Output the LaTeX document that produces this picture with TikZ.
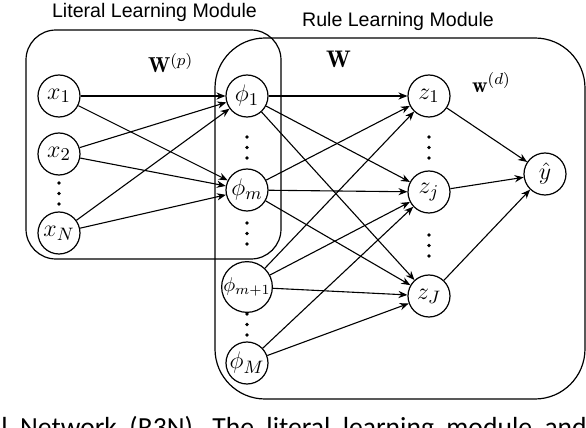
\documentclass[tikz,border=0pt]{standalone}
\usepackage{fontspec}
\usetikzlibrary{arrows.meta}
\newfontfamily\labelfont{Liberation Sans}
\newfontfamily\captionfont{Carlito}

% three dots of a column, top dot at (#1,#2)
\newcommand{\vdotsat}[2]{
  \fill (#1,#2) circle (0.9pt);
  \fill (#1,#2+10.5) circle (0.9pt);
  \fill (#1,#2+21) circle (0.9pt);
}

\begin{document}
\begin{tikzpicture}[x=0.5pt,y=-0.5pt,>={Stealth[length=4.5pt,width=3.6pt]},
  neuron/.style={draw,circle,minimum size=21pt,inner sep=0pt,line width=0.6pt,font=\fontsize{12.5}{14}\selectfont},
  module/.style={draw,line width=0.6pt},
  link/.style={->,line width=0.55pt},
  modname/.style={anchor=base,font=\labelfont\fontsize{9.8}{12}\selectfont}]
  \useasboundingbox (0,0) rectangle (586,428);
  \clip (0,0) rectangle (586,428);

  % modules
  \draw[module,rounded corners=15pt] (26,30) rectangle (281,259);
  \draw[module,rounded corners=25pt] (215,38) rectangle (585,399);
  \node[modname] (litname) at (154.5,18) {Literal Learning Module};
  \node[modname] (rulename) at (398,26) {Rule Learning Module};

  % weights
  \node[anchor=base west,font=\fontsize{10.8}{12}\selectfont] (Wp) at (141,73) {$\mathbf{W}^{(p)}$};
  \node[anchor=base west,font=\fontsize{12}{14}\selectfont] (W) at (319,68) {$\mathbf{W}$};
  \node[anchor=base west,font=\fontsize{10.8}{12}\selectfont] (wd) at (465,92) {$\mathbf{w}^{(d)}$};

  % inputs
  \node[neuron] (x1) at (59,96) {$x_1$};
  \node[neuron] (x2) at (59,154) {$x_2$};
  \node[neuron] (xN) at (59,233) {$x_N$};
  \vdotsat{59}{183}

  % literals
  \node[neuron] (phi1) at (247,96) {$\phi_1$};
  \node[neuron] (phim) at (247,190) {$\phi_m$};
  \node[neuron,font=\fontsize{10}{12}\selectfont] (phimm) at (247,287) {$\phi_{m+1}$};
  \node[neuron] (phiM) at (247,363) {$\phi_M$};
  \vdotsat{247}{137}
  \vdotsat{247}{223}
  \vdotsat{247}{314}

  % rules
  \node[neuron] (z1) at (429,96) {$z_1$};
  \node[neuron] (zj) at (429,192) {$z_j$};
  \node[neuron] (zJ) at (429,296) {$z_J$};
  \vdotsat{429}{137}
  \vdotsat{429}{235}

  % output
  \node[neuron] (yhat) at (545,174) {$\hat{y}$};

  % inputs to literals
  \draw[link] (x1) -- (phi1);
  \draw[link] (x1) -- (phim);
  \draw[link] (x2) -- (phi1);
  \draw[link] (x2) -- (phim);
  \draw[link] (xN) -- (phi1);
  \draw[link] (xN) -- (phim);

  % literals to rules
  \draw[link] (phi1) -- (z1);
  \draw[link] (phi1) -- (zj);
  \draw[link] (phi1) -- (zJ);
  \draw[link] (phim) -- (z1);
  \draw[link] (phim) -- (zj);
  \draw[link] (phim) -- (zJ);
  \draw[link] (phimm) -- (z1);
  \draw[link] (phimm) -- (zj);
  \draw[link] (phimm) -- (zJ);
  \draw[link] (phiM) -- (zj);
  \draw[link] (phiM) -- (zJ);

  % rules to output
  \draw[link] (z1) -- (yhat);
  \draw[link] (zj) -- (yhat);
  \draw[link] (zJ) -- (yhat);

  % caption line, cut by the page
  \node[anchor=base west,inner sep=0pt,font=\captionfont\fontsize{13.8}{16}\selectfont] (caption) at (1,437)
    {\spaceskip=0.45em\relax l Network (R3N). The literal learning module and};
\end{tikzpicture}
\end{document}
